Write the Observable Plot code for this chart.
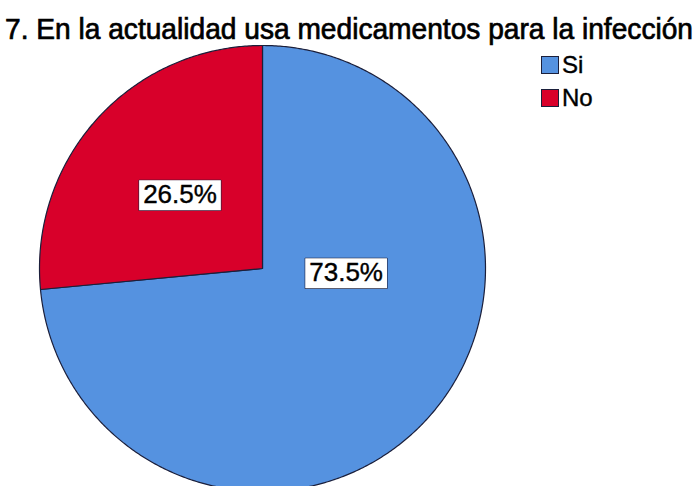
<!DOCTYPE html>
<html>
<head>
<meta charset="utf-8">
<script src="https://cdn.jsdelivr.net/npm/d3@7"></script>
<script src="https://cdn.jsdelivr.net/npm/@observablehq/plot@0.6"></script>
<style>
  html, body { margin: 0; padding: 0; background: #fff; }
  #wrap { position: relative; width: 698px; height: 486px; overflow: hidden; font-family: "Liberation Sans", Arial, sans-serif; }
  #title { position: absolute; left: 5px; top: 13px; font-size: 29px; white-space: nowrap; color: #000; transform-origin: 0 0; -webkit-text-stroke: 0.7px #000; }
  #legend { position: absolute; left: 541px; top: 48px; font-size: 24px; color: #000; -webkit-text-stroke: 0.4px #000; }
  .li { display: flex; align-items: center; height: 33px; }
  .sw { width: 18px; height: 18px; border: 1px solid #1b1f3b; margin-right: 3px; box-sizing: border-box; }
  #chart { position: absolute; left: 0; top: 0; }
</style>
</head>
<body>
<div id="wrap">
  <div id="chart"></div>
  <div id="title"></div>
  <div id="legend"></div>
</div>
<script>
// ---- data ----
const titleText = "7. En la actualidad usa medicamentos para la infección";
const categories = ["Si", "No"];
const percents = [73.5, 26.5];
const percentLabels = ["73.5%", "26.5%"];

// ---- style / layout ----
const colors = ["#5592e0", "#d8002a"];
const cx = 262, cy = 268, r = 223;
const labelPos = { Si: [0.375, -0.02], No: [-0.37, 0.33] }; // unit-circle placement of labels

// build slice outlines from d3.pie angles
const pie = d3.pie().sort(null).value(d => d.v)(categories.map((c, i) => ({ c, v: percents[i], lab: percentLabels[i] })));
const slicePts = [];
for (const a of pie) {
  slicePts.push({ cat: a.data.c, x: 0, y: 0 });
  const n = Math.max(2, Math.ceil((a.endAngle - a.startAngle) / (Math.PI / 360)));
  for (let k = 0; k <= n; k++) {
    const t = a.startAngle + (a.endAngle - a.startAngle) * k / n;
    slicePts.push({ cat: a.data.c, x: Math.sin(t), y: Math.cos(t) });
  }
  slicePts.push({ cat: a.data.c, x: 0, y: 0 });
}
const labels = pie.map(a => ({ cat: a.data.c, lab: a.data.lab, x: labelPos[a.data.c][0], y: labelPos[a.data.c][1] }));

const plot = Plot.plot({
  width: 698,
  height: 486,
  margin: 0,
  x: { domain: [-1, 1], range: [cx - r, cx + r], axis: null },
  y: { domain: [-1, 1], range: [cy + r, cy - r], axis: null },
  color: { domain: categories, range: colors },
  style: { background: "transparent", fontFamily: "Liberation Sans, Arial, sans-serif" },
  marks: [
    Plot.line(slicePts, { x: "x", y: "y", z: "cat", fill: "cat", stroke: "#1b1f3b", strokeWidth: 1.2, curve: "linear" }),
    Plot.text(labels, { x: "x", y: "y", text: "lab", fontSize: 26, fill: "#000", stroke: "#000", strokeWidth: 0.4, className: "pct" })
  ]
});
document.getElementById("chart").appendChild(plot);

// white boxes behind labels
d3.select(plot).selectAll("g.pct text").each(function () {
  const b = this.getBBox();
  d3.select(this.parentNode).insert("rect", () => this)
    .attr("transform", this.getAttribute("transform"))
    .attr("x", b.x - 4).attr("y", b.y + 1)
    .attr("width", b.width + 8).attr("height", b.height)
    .attr("fill", "#fff").attr("stroke", "#1b1f3b").attr("stroke-width", 1.2);
});

// title, scaled to reference width
const t = document.getElementById("title");
t.textContent = titleText;
const w = t.getBoundingClientRect().width;
t.style.transform = `scaleX(${688 / w})`;

// legend
const lg = document.getElementById("legend");
categories.forEach((c, i) => {
  const row = document.createElement("div");
  row.className = "li";
  const sw = document.createElement("div");
  sw.className = "sw";
  sw.style.background = colors[i];
  const tx = document.createElement("span");
  tx.textContent = c;
  row.appendChild(sw); row.appendChild(tx);
  lg.appendChild(row);
});
</script>
</body>
</html>
